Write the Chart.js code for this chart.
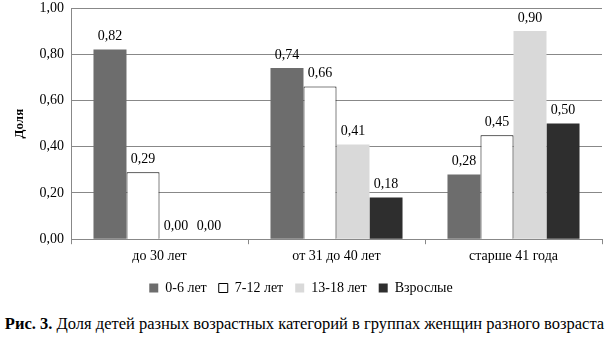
<!DOCTYPE html>
<html>
<head>
<meta charset="utf-8">
<script src="https://cdn.jsdelivr.net/npm/chart.js@4"></script>
<style>
  body { margin: 0; background: #fff; }
  #wrap { position: relative; width: 609px; height: 305px; }
  #caption {
    position: absolute; left: 0; top: 314px; width: 609px;
    text-align: center; font-family: "Liberation Serif", "Times New Roman", serif; font-size: 16.5px; color: #000;
    white-space: nowrap;
  }
</style>
</head>
<body>
<div id="wrap"><canvas id="chart"></canvas></div>
<div id="caption"><b>Рис. 3.</b> Доля детей разных возрастных категорий в группах женщин разного возраста</div>
<script>
const groups = ["до 30 лет", "от 31 до 40 лет", "старше 41 года"];
const seriesNames = ["0-6 лет", "7-12 лет", "13-18 лет", "Взрослые"];
const age0to6 = [0.82, 0.74, 0.28];
const age7to12 = [0.29, 0.66, 0.45];
const age13to18 = [0.00, 0.41, 0.90];
const adults = [0.00, 0.18, 0.50];
const yTicks = [0, 0.2, 0.4, 0.6, 0.8, 1.0];

const fill = ["#6d6d6d", "#ffffff", "#d9d9d9", "#2e2e2e"];
const values = [age0to6, age7to12, age13to18, adults];
const serif = "'Liberation Serif', 'Times New Roman', serif";

Chart.defaults.font.family = serif;
Chart.defaults.font.size = 14;
Chart.defaults.color = "#000";

function fmt(v) {
    return v.toFixed(2).replace(".", ",");
}

// подписи значений над столбцами
const labelsPlugin = {
    id: "valueLabels",
    afterDatasetsDraw(chart) {
        const ctx = chart.ctx;
        ctx.save();
        ctx.font = "14px " + serif;
        ctx.fillStyle = "#000";
        ctx.textAlign = "center";
        ctx.textBaseline = "bottom";
        chart.data.datasets.forEach((ds, i) => {
            chart.getDatasetMeta(i).data.forEach((bar, j) => {
                ctx.fillText(fmt(ds.data[j]), bar.x, bar.y - 6);
            });
        });
        ctx.restore();
    }
};

const datasets = seriesNames.map((name, i) => ({
    label: name,
    data: values[i],
    backgroundColor: fill[i],
    borderColor: i === 1 ? "#000" : fill[i],
    borderWidth: i === 1 ? 1 : 0,
    categoryPercentage: 0.746,
    barPercentage: 1
}));

function draw() {
    const ctx = document.getElementById("chart").getContext("2d");
    new Chart(ctx, {
        type: "bar",
        data: { labels: groups, datasets: datasets },
        plugins: [labelsPlugin],
        options: {
            responsive: true,
            maintainAspectRatio: false,
            animation: false,
            layout: { padding: { top: 8, right: 7, left: 0, bottom: 0 } },
            plugins: {
                tooltip: { enabled: false },
                legend: {
                    position: "bottom",
                    labels: {
                        boxWidth: 9,
                        boxHeight: 9,
                        padding: 12,
                        color: "#000",
                        font: { family: serif, size: 14 }
                    }
                }
            },
            scales: {
                x: {
                    grid: { drawOnChartArea: false, drawTicks: true, tickLength: 5, color: "#888" },
                    border: { color: "#888" },
                    ticks: { color: "#000", padding: 4, font: { family: serif, size: 14 } }
                },
                y: {
                    min: 0,
                    max: 1,
                    afterFit(scale) {
                        scale.width = 71;
                        scale.paddingTop = 8;
                    },
                    afterBuildTicks(scale) { scale.ticks = yTicks.map(v => ({ value: v })); },
                    grid: { color: "#888", drawTicks: false },
                    border: { color: "#888" },
                    ticks: {
                        color: "#000",
                        padding: 7,
                        font: { family: serif, size: 14 },
                        callback: v => fmt(v)
                    },
                    title: {
                        display: true,
                        text: "Доля",
                        color: "#000",
                        padding: { top: 12, bottom: 0 },
                        font: { family: serif, size: 13, weight: "bold" }
                    }
                }
            }
        }
    });
}

document.fonts.load("14px 'Liberation Serif'").then(draw, draw);
</script>
</body>
</html>
